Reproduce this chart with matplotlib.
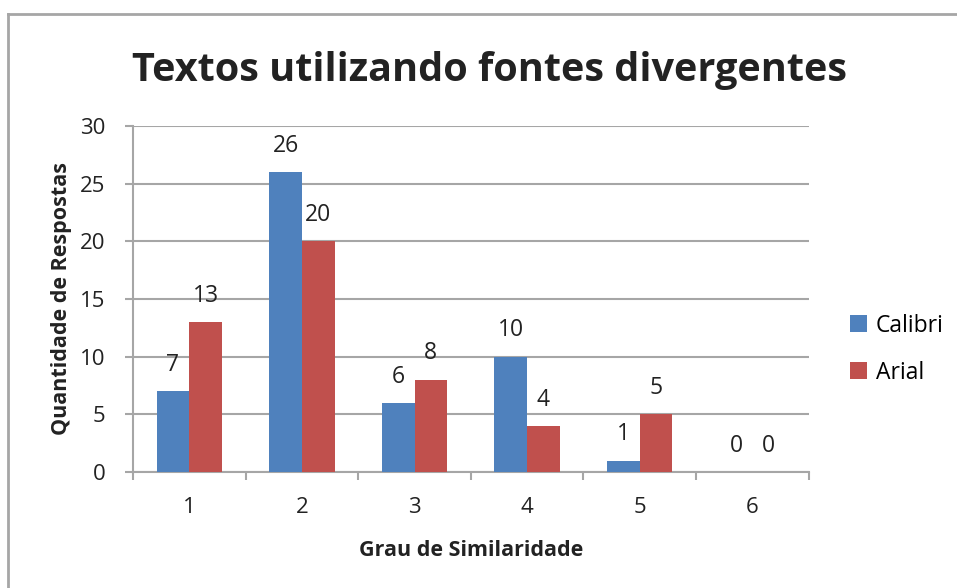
import numpy as np
import matplotlib.pyplot as plt
from matplotlib.lines import Line2D

categories = ['1', '2', '3', '4', '5', '6']
calibri = [7, 26, 6, 10, 1, 0]
arial = [13, 20, 8, 4, 5, 0]

plt.rcParams['font.family'] = ['Open Sans', 'DejaVu Sans']

fig = plt.figure(figsize=(9.57, 5.88), dpi=100)
ax = fig.add_axes([0.139, 0.197, 0.706, 0.589])

# chart frame (top and left only, as in the reference)
grey = '#a6a6a6'
fig.add_artist(Line2D([0.008, 1.0], [0.977, 0.977], color=grey, lw=2, transform=fig.transFigure))
fig.add_artist(Line2D([0.008, 0.008], [0.0, 0.977], color=grey, lw=2, transform=fig.transFigure))

x = np.arange(len(categories))
w = 0.29
b1 = ax.bar(x - w / 2, calibri, w, color='#4f81bd', label='Calibri', zorder=3)
b2 = ax.bar(x + w / 2, arial, w, color='#c0504d', label='Arial', zorder=3)

for bars, vals in ((b1, calibri), (b2, arial)):
    for r, v in zip(bars, vals):
        ax.annotate(str(v), (r.get_x() + r.get_width() / 2, v), xytext=(0, 19),
                    textcoords='offset points', ha='center', va='center', fontsize=16.5, color='#222222')

ax.set_xlim(-0.5, len(categories) - 0.5)
ax.set_ylim(0, 30)
ax.set_yticks(range(0, 31, 5))
ax.set_xticks(x)
ax.set_xticklabels(categories)
ax.set_xticks(np.arange(-0.5, len(categories)), minor=True)
ax.tick_params(axis='x', which='major', length=0, pad=18, labelsize=16, labelcolor='#222222')
ax.tick_params(axis='x', which='minor', length=6, width=1.5, color=grey, direction='out')
ax.tick_params(axis='y', length=6, width=1.5, color=grey, pad=14, labelsize=16, labelcolor='#222222')
ax.yaxis.grid(True, color=grey, lw=1.5, zorder=0)
for s in ['top', 'right']:
    ax.spines[s].set_visible(False)
for s in ['left', 'bottom']:
    ax.spines[s].set_color(grey)
    ax.spines[s].set_linewidth(1.5)

ax.set_xlabel('Grau de Similaridade', fontsize=15.5, fontweight='bold', color='#222222')
ax.set_ylabel('Quantidade de Respostas', fontsize=15.5, fontweight='bold', color='#222222')
ax.xaxis.set_label_coords(0.5, -0.197)
ax.yaxis.set_label_coords(-0.09, 0.5)
fig.text(0.511, 0.88, 'Textos utilizando fontes divergentes', ha='center', va='center',
         fontsize=28.5, fontweight='bold', color='#222222')

ax.legend(loc='center left', bbox_to_anchor=(1.03, 0.355), frameon=False, fontsize=16.5,
          handlelength=0.75, handleheight=0.75, labelspacing=1.0, handletextpad=0.4)

fig.savefig('out.png', dpi=100)
